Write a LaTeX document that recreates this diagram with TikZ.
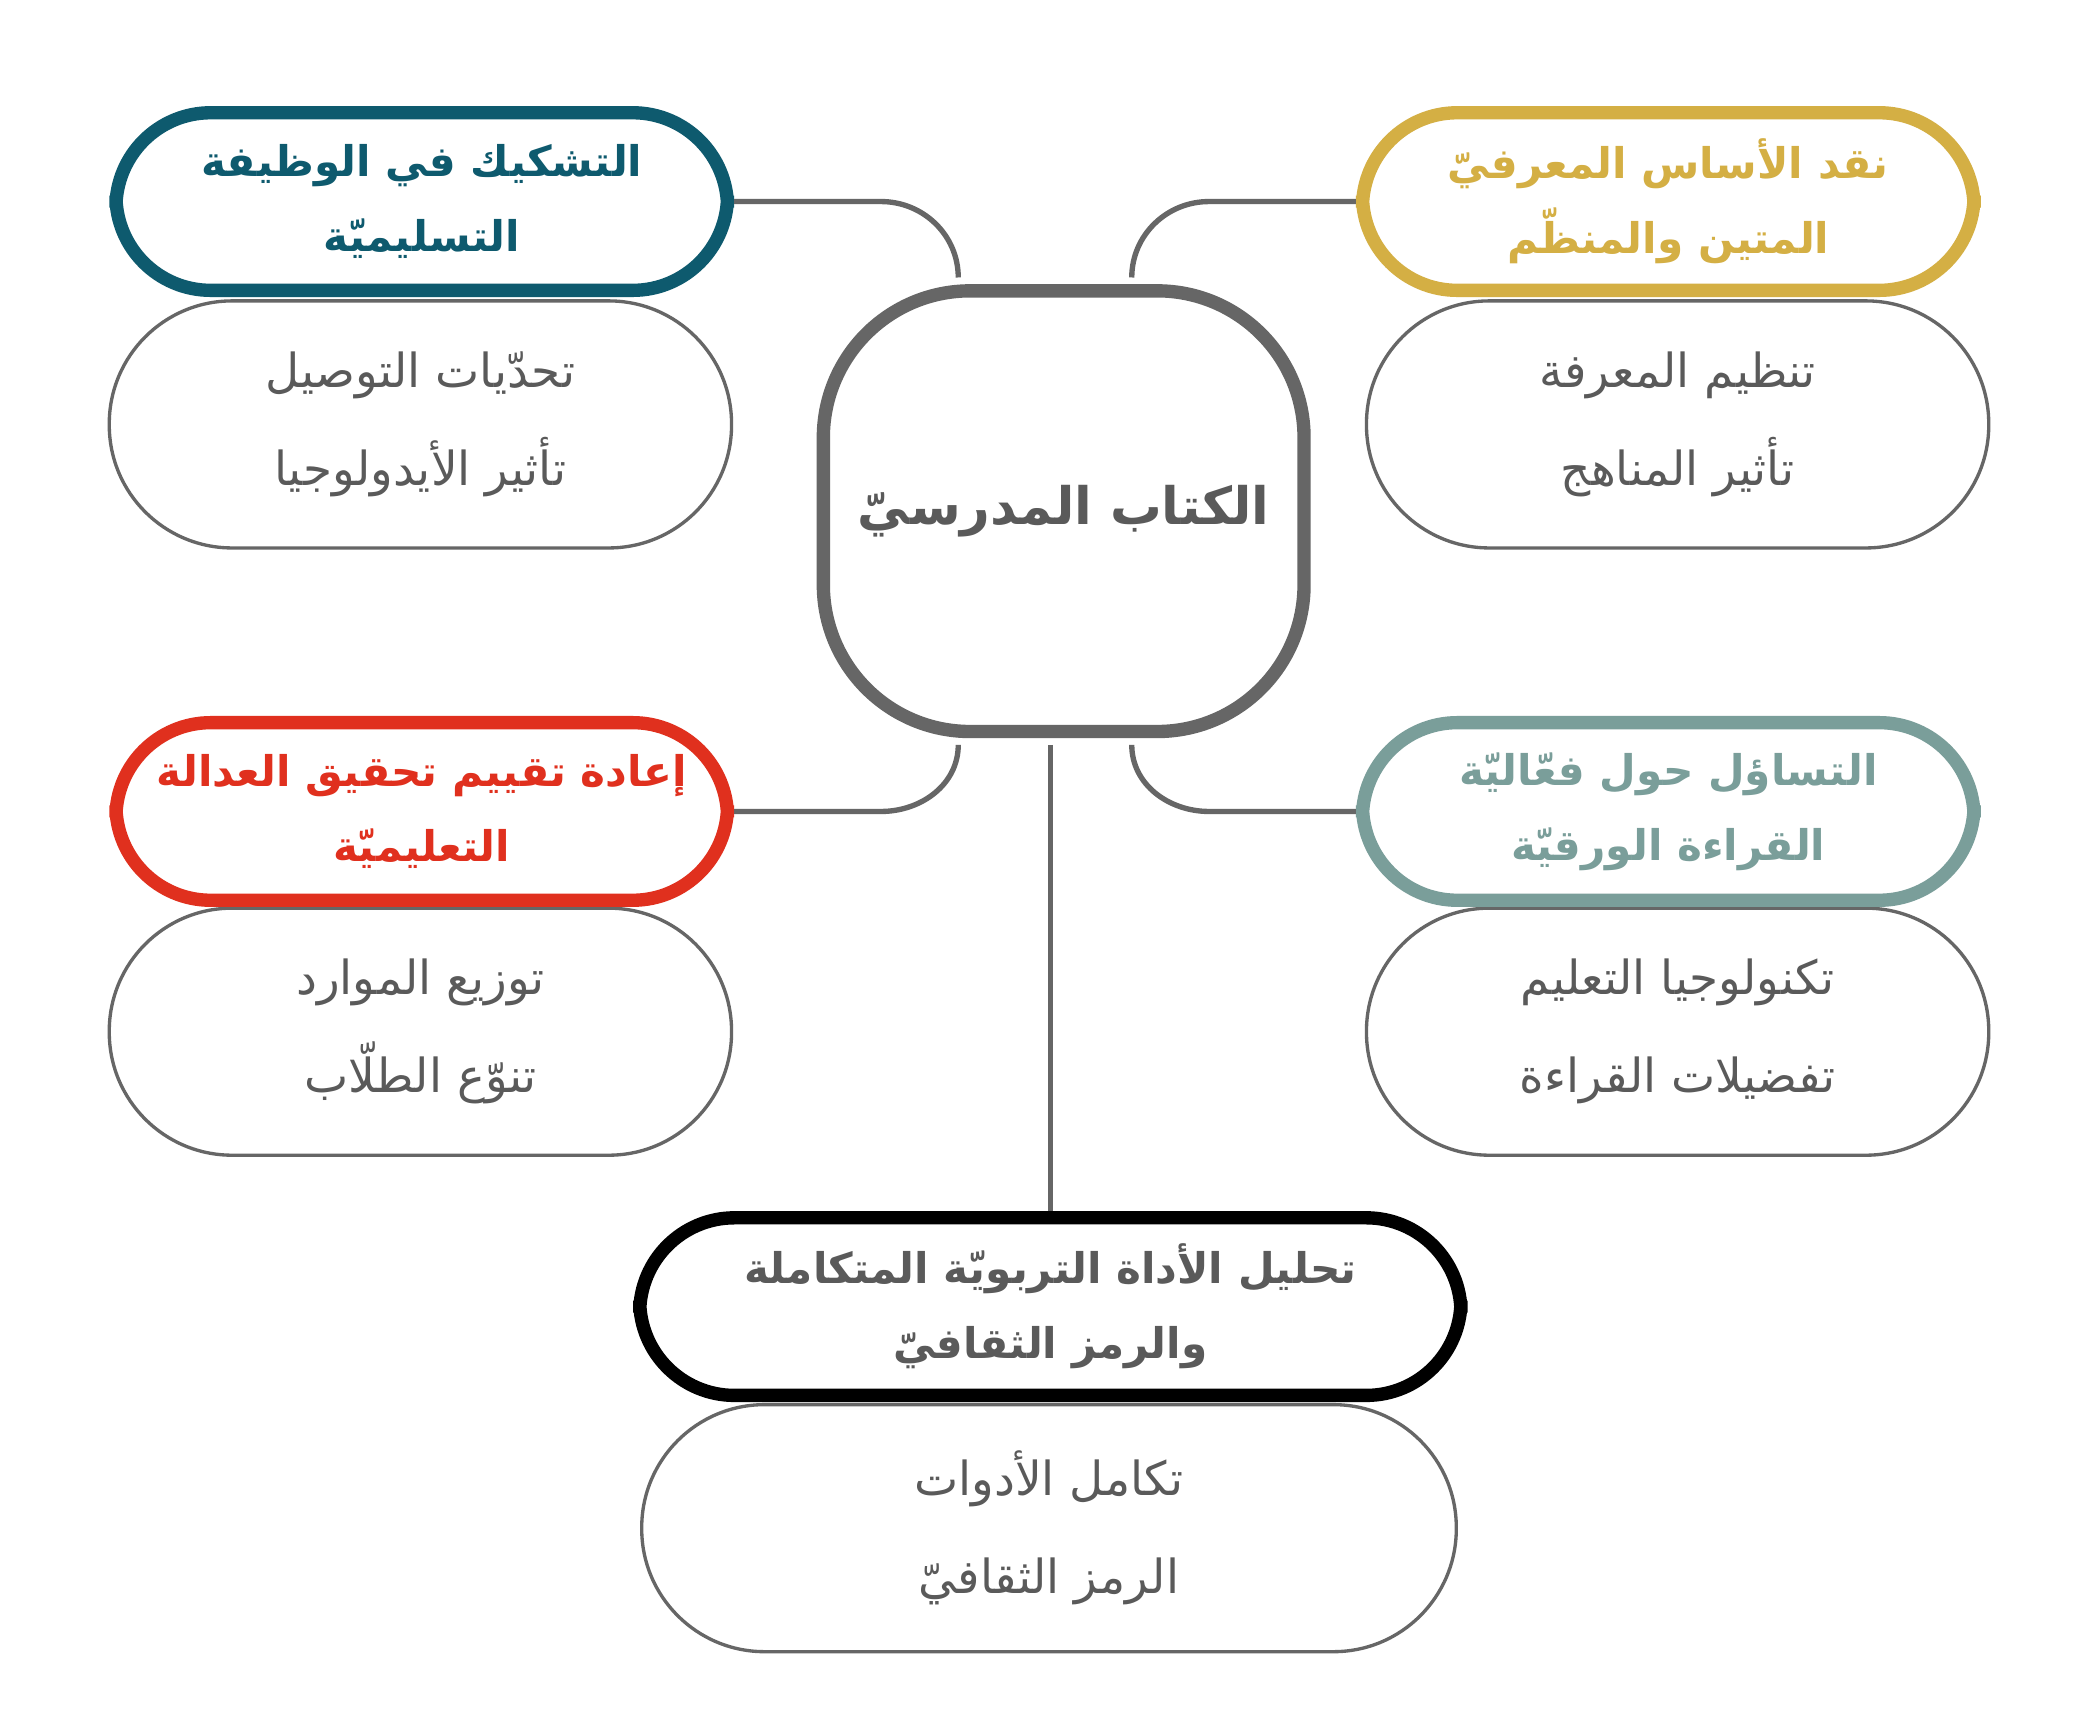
\documentclass[tikz,border=0pt]{standalone}
\usepackage{fontspec}
\TeXXeTstate=1
\newfontfamily\arabicfont[Script=Arabic]{DejaVu Sans}
\usetikzlibrary{positioning,calc}
\definecolor{linegray}{HTML}{666666}
\definecolor{textgray}{HTML}{5A5A5A}
\definecolor{tealdark}{HTML}{0E5A6E}
\definecolor{goldc}{HTML}{D4AF44}
\definecolor{redc}{HTML}{E0301E}
\definecolor{sagec}{HTML}{7A9E9A}
\tikzset{
  head/.style={draw, line width=0.1cm, fill=white, rounded corners=0.71cm,
    minimum width=4.58cm, minimum height=1.33cm, align=center,
    font=\arabicfont\bfseries\fontsize{9}{16}\selectfont},
  sub/.style={draw=linegray, line width=0.025cm, fill=white, rounded corners=0.92cm,
    minimum width=4.66cm, minimum height=1.85cm, align=center, text=textgray,
    font=\arabicfont\fontsize{10}{18}\selectfont},
  link/.style={draw=linegray, line width=0.04cm}
}
\newcommand{\ar}[1]{\beginR #1\endR}
\begin{document}
\begin{tikzpicture}[x=0.01cm,y=-0.01cm]
\useasboundingbox[fill=white] (0,0) rectangle (1560,1293);
% central box
\node[draw=linegray, line width=0.1cm, rounded corners=1.1cm, minimum width=3.6cm,
  minimum height=3.3cm, text=textgray, font=\arabicfont\bfseries\fontsize{11}{20}\selectfont]
  (ctr) at (797,383) {\ar{الكتاب المدرسيّ}};
% sub boxes
\node[sub] (sTL) at (315,318) {\ar{تحدّيات التوصيل}\\[1mm]\ar{تأثير الأيدولوجيا}};
\node[sub] (sTR) at (1257,318) {\ar{تنظيم المعرفة}\\[1mm]\ar{تأثير المناهج}};
\node[sub] (sML) at (315,773) {\ar{توزيع الموارد}\\[1mm]\ar{تنوّع الطلّاب}};
\node[sub] (sMR) at (1257,773) {\ar{تكنولوجيا التعليم}\\[1mm]\ar{تفضيلات القراءة}};
\node[sub, minimum width=6.1cm] (sB) at (786,1145) {\ar{تكامل الأدوات}\\[1mm]\ar{الرمز الثقافيّ}};
% headers
\node[head, draw=tealdark, text=tealdark] (hTL) at (316,151) {\ar{التشكيك في الوظيفة}\\\ar{التسليميّة}};
\node[head, draw=goldc, text=goldc] (hTR) at (1250,151) {\ar{نقد الأساس المعرفيّ}\\\ar{المتين والمنظّم}};
\node[head, draw=redc, text=redc] (hML) at (316,608) {\ar{إعادة تقييم تحقيق العدالة}\\\ar{التعليميّة}};
\node[head, draw=sagec, text=sagec] (hMR) at (1250,608) {\ar{التساؤل حول فعّاليّة}\\\ar{القراءة الورقيّة}};
\node[head, draw=black, text=textgray, minimum width=6.15cm] (hB) at (787,979) {\ar{تحليل الأداة التربويّة المتكاملة}\\\ar{والرمز الثقافيّ}};
% connectors
\draw[link] (hTL.east) -- ++(110,0) to[out=0,in=90] ($(ctr.north)+(-79,-5)$);
\draw[link] (hTR.west) -- ++(-110,0) to[out=180,in=90] ($(ctr.north)+(51,-5)$);
\draw[link] (hML.east) -- ++(110,0) to[out=0,in=-90] ($(ctr.south)+(-79,5)$);
\draw[link] (hMR.west) -- ++(-110,0) to[out=180,in=-90] ($(ctr.south)+(51,5)$);
\draw[link] ($(ctr.south)+(-10,5)$) -- ($(hB.north)+(0,0)$);
\end{tikzpicture}
\end{document}
